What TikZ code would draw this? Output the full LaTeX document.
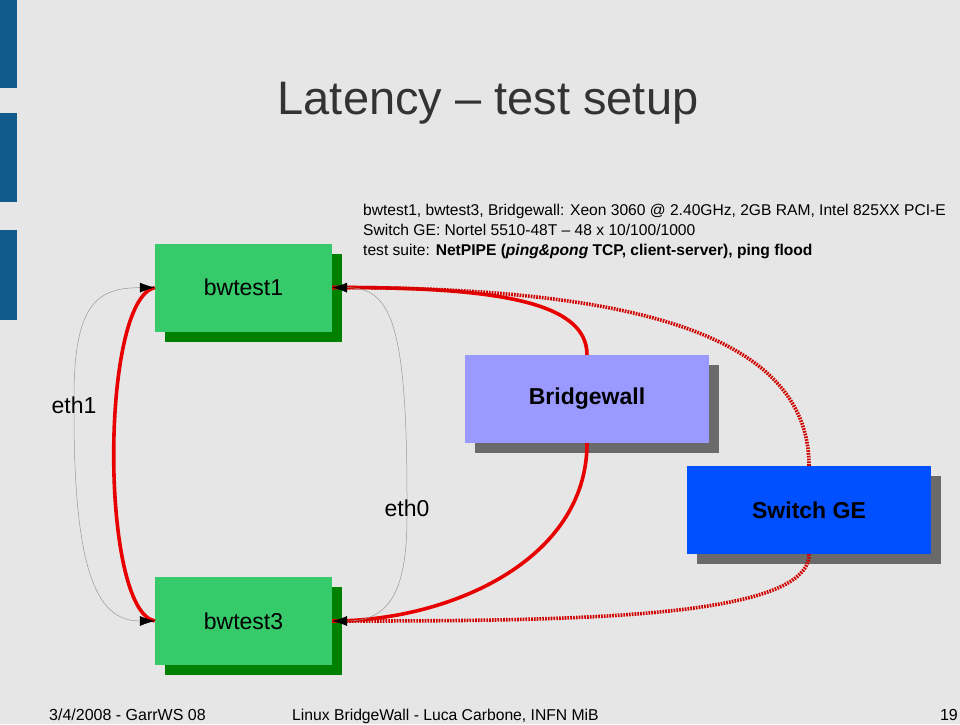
\documentclass[tikz,border=0pt]{standalone}
\usepackage{fontspec}
\setmainfont{Liberation Sans}
\usetikzlibrary{arrows.meta,shadows}
\definecolor{bgc}{HTML}{E6E6E6}
\definecolor{barc}{HTML}{105A8C}
\definecolor{gfill}{HTML}{36CA6A}
\definecolor{gshad}{HTML}{008000}
\definecolor{pfill}{HTML}{9999FF}
\definecolor{bfill}{HTML}{0050FF}
\definecolor{gshd}{HTML}{6A6A6A}
\definecolor{redc}{HTML}{E80000}
\definecolor{titlec}{HTML}{333333}
\tikzset{
  box/.style={inner sep=0pt, minimum height=88pt, font=\fontsize{23}{27}\selectfont},
  greenbox/.style={box, minimum width=177pt, fill=gfill,
    general shadow={fill=gshad, shadow xshift=10pt, shadow yshift=-10pt}},
  graybox/.style={box, minimum width=244pt,
    general shadow={fill=gshd, shadow xshift=10pt, shadow yshift=-10pt}},
  redline/.style={draw=redc, line width=3.6pt},
  reddot/.style={draw=redc!90!black, line width=3.6pt, dash pattern=on 1.7pt off 1.1pt},
  thin/.style={draw=gray!80, line width=0.5pt},
  tip/.style={-{Latex[length=15pt,width=10pt,black]}, thin},
  lbl/.style={inner sep=0pt, font=\fontsize{23}{27}\selectfont},
  infotext/.style={anchor=base west, inner sep=0pt, font=\fontsize{15.6}{20}\selectfont},
  foot/.style={inner sep=0pt, font=\fontsize{16}{19}\selectfont},
}
\begin{document}
\begin{tikzpicture}[x=1pt,y=-1pt]
\fill[bgc] (0,0) rectangle (960,724);
\useasboundingbox (0,0) rectangle (960,724);
\fill[barc] (0,0) rectangle (17,88);
\fill[barc] (0,113) rectangle (17,202);
\fill[barc] (0,230) rectangle (17,320);

\node[text=titlec, font=\fontsize{47}{56}\selectfont, anchor=base] (title) at (488,114) {Latency -- test setup};

\node[infotext] (info1) at (363,215) {bwtest1, bwtest3, Bridgewall: Xeon 3060 @ 2.40GHz, 2GB RAM, Intel 825XX PCI-E};
\node[infotext] (info2) at (363,235) {Switch GE: Nortel 5510-48T -- 48 x 10/100/1000};
\node[infotext] (info3) at (363,255) {test suite: \textbf{NetPIPE (\textit{ping\&pong} TCP, client-server), ping flood}};

\node[greenbox] (b1) at (243.5,287.5) {bwtest1};
\node[greenbox] (b3) at (243.5,621) {bwtest3};
\node[graybox, fill=pfill, font=\fontsize{23}{27}\selectfont\bfseries] (bw) at (587,399) {Bridgewall};
\node[graybox, fill=bfill, font=\fontsize{23}{27}\selectfont\bfseries] (sw) at (809,510) {Switch GE};

\node[lbl] (eth1) at (74,405) {eth1};
\node[lbl] (eth0) at (407,508) {eth0};

% red links
\draw[redline] (b1.west) .. controls (100,300) and (100,610) .. (b3.west);
\draw[redline] (b1.east) .. controls (490,287) and (587,300) .. (bw.north);
\draw[redline] (bw.south) .. controls (587,560) and (450,621) .. (b3.east);
\draw[reddot] (b1.east) .. controls (620,287) and (809,330) .. (sw.north);
\draw[reddot] (sw.south) .. controls (809,620) and (560,621) .. (b3.east);

% thin interface arrows
\draw[tip] (eth1.north) .. controls (74,300) and (100,288) .. (b1.west);
\draw[tip] (eth1.south) .. controls (74,580) and (100,621) .. (b3.west);
\draw[tip] (eth0.north) .. controls (407,320) and (390,288) .. (b1.east);
\draw[tip] (eth0.south) .. controls (407,590) and (390,621) .. (b3.east);

% footer
\node[foot, anchor=base west] (f1) at (49,720) {3/4/2008 - GarrWS 08};
\node[foot, anchor=base west, font=\fontsize{15.7}{19}\selectfont] (f2) at (292,720) {Linux BridgeWall - Luca Carbone, INFN MiB};
\node[foot, anchor=base east] (f3) at (958,720) {19};
\end{tikzpicture}
\end{document}
